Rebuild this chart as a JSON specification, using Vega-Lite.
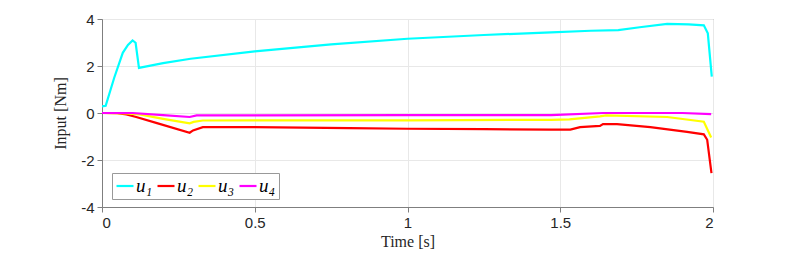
{
  "$schema": "https://vega.github.io/schema/vega-lite/v6.json",
  "width": 611,
  "height": 188,
  "autosize": "none",
  "padding": {"left": 102, "top": 19, "right": 76, "bottom": 52},
  "background": "white",
  "config": {
    "view": {"stroke": "#7f7f7f", "strokeWidth": 1},
    "axis": {
      "domainColor": "#7f7f7f",
      "tickColor": "#7f7f7f",
      "gridColor": "#e8e8e8",
      "labelFont": "Liberation Sans",
      "labelFontSize": 15,
      "labelColor": "#262626",
      "titleFont": "Liberation Serif",
      "titleFontSize": 16,
      "titleFontWeight": "normal",
      "titleColor": "#262626"
    }
  },
  "data": {
    "values": [
      {"t": 0, "v": 0.28, "s": "u₁"},
      {"t": 0.012, "v": 0.31, "s": "u₁"},
      {"t": 0.04, "v": 1.5, "s": "u₁"},
      {"t": 0.068, "v": 2.56, "s": "u₁"},
      {"t": 0.085, "v": 2.9, "s": "u₁"},
      {"t": 0.1, "v": 3.09, "s": "u₁"},
      {"t": 0.11, "v": 2.99, "s": "u₁"},
      {"t": 0.121, "v": 1.92, "s": "u₁"},
      {"t": 0.2, "v": 2.12, "s": "u₁"},
      {"t": 0.29, "v": 2.31, "s": "u₁"},
      {"t": 0.5, "v": 2.62, "s": "u₁"},
      {"t": 0.75, "v": 2.92, "s": "u₁"},
      {"t": 1.0, "v": 3.16, "s": "u₁"},
      {"t": 1.25, "v": 3.32, "s": "u₁"},
      {"t": 1.47, "v": 3.43, "s": "u₁"},
      {"t": 1.6, "v": 3.5, "s": "u₁"},
      {"t": 1.69, "v": 3.53, "s": "u₁"},
      {"t": 1.76, "v": 3.65, "s": "u₁"},
      {"t": 1.85, "v": 3.79, "s": "u₁"},
      {"t": 1.92, "v": 3.77, "s": "u₁"},
      {"t": 1.97, "v": 3.73, "s": "u₁"},
      {"t": 1.983, "v": 3.39, "s": "u₁"},
      {"t": 1.996, "v": 1.55, "s": "u₁"},

      {"t": 0, "v": 0, "s": "u₂"},
      {"t": 0.05, "v": -0.01, "s": "u₂"},
      {"t": 0.08, "v": -0.06, "s": "u₂"},
      {"t": 0.112, "v": -0.17, "s": "u₂"},
      {"t": 0.18, "v": -0.43, "s": "u₂"},
      {"t": 0.287, "v": -0.84, "s": "u₂"},
      {"t": 0.298, "v": -0.74, "s": "u₂"},
      {"t": 0.33, "v": -0.6, "s": "u₂"},
      {"t": 0.5, "v": -0.6, "s": "u₂"},
      {"t": 0.81, "v": -0.64, "s": "u₂"},
      {"t": 1.0, "v": -0.67, "s": "u₂"},
      {"t": 1.25, "v": -0.69, "s": "u₂"},
      {"t": 1.47, "v": -0.71, "s": "u₂"},
      {"t": 1.533, "v": -0.71, "s": "u₂"},
      {"t": 1.565, "v": -0.6, "s": "u₂"},
      {"t": 1.63, "v": -0.55, "s": "u₂"},
      {"t": 1.64, "v": -0.47, "s": "u₂"},
      {"t": 1.686, "v": -0.47, "s": "u₂"},
      {"t": 1.795, "v": -0.6, "s": "u₂"},
      {"t": 1.915, "v": -0.8, "s": "u₂"},
      {"t": 1.97, "v": -0.91, "s": "u₂"},
      {"t": 1.981, "v": -1.14, "s": "u₂"},
      {"t": 1.995, "v": -2.56, "s": "u₂"},

      {"t": 0, "v": 0, "s": "u₃"},
      {"t": 0.08, "v": -0.02, "s": "u₃"},
      {"t": 0.123, "v": -0.06, "s": "u₃"},
      {"t": 0.2, "v": -0.25, "s": "u₃"},
      {"t": 0.287, "v": -0.44, "s": "u₃"},
      {"t": 0.3, "v": -0.38, "s": "u₃"},
      {"t": 0.33, "v": -0.32, "s": "u₃"},
      {"t": 1.0, "v": -0.31, "s": "u₃"},
      {"t": 1.47, "v": -0.29, "s": "u₃"},
      {"t": 1.53, "v": -0.27, "s": "u₃"},
      {"t": 1.63, "v": -0.14, "s": "u₃"},
      {"t": 1.65, "v": -0.1, "s": "u₃"},
      {"t": 1.85, "v": -0.17, "s": "u₃"},
      {"t": 1.97, "v": -0.37, "s": "u₃"},
      {"t": 1.994, "v": -1.04, "s": "u₃"},

      {"t": 0, "v": 0, "s": "u₄"},
      {"t": 0.1, "v": 0, "s": "u₄"},
      {"t": 0.2, "v": -0.09, "s": "u₄"},
      {"t": 0.287, "v": -0.17, "s": "u₄"},
      {"t": 0.31, "v": -0.1, "s": "u₄"},
      {"t": 1.0, "v": -0.09, "s": "u₄"},
      {"t": 1.47, "v": -0.09, "s": "u₄"},
      {"t": 1.64, "v": 0, "s": "u₄"},
      {"t": 1.9, "v": 0, "s": "u₄"},
      {"t": 1.994, "v": -0.05, "s": "u₄"}
    ]
  },
  "mark": {"type": "line", "strokeWidth": 2.2, "clip": true},
  "encoding": {
    "x": {
      "field": "t", "type": "quantitative",
      "scale": {"domain": [0, 2], "nice": false, "zero": false},
      "axis": {"values": [0, 0.5, 1, 1.5, 2], "format": "~g", "title": "Time [s]", "tickSize": 5, "labelPadding": 3, "titlePadding": 3, "grid": true}
    },
    "y": {
      "field": "v", "type": "quantitative",
      "scale": {"domain": [-4, 4], "nice": false},
      "axis": {"values": [-4, -2, 0, 2, 4], "title": "Input [Nm]", "tickSize": 5, "labelPadding": 3, "titlePadding": 12, "grid": true,
               "labelExpr": "replace(datum.label, '−', '-')"}
    },
    "color": {
      "field": "s", "type": "nominal",
      "scale": {"domain": ["u₁", "u₂", "u₃", "u₄"], "range": ["#00ffff", "#ff0000", "#ffff00", "#ff00ff"]},
      "legend": {
        "title": null,
        "orient": "none",
        "legendX": 10,
        "legendY": 154,
        "direction": "horizontal",
        "symbolType": "stroke",
        "symbolSize": 289,
        "symbolStrokeWidth": 2.2,
        "labelFont": "Liberation Serif",
        "labelFontStyle": "italic",
        "labelFontSize": 19,
        "labelColor": "#000000",
        "labelOffset": 1,
        "columnPadding": 0,
        "padding": 3,
        "strokeColor": "#999999",
        "fillColor": "white"
      }
    }
  }
}
